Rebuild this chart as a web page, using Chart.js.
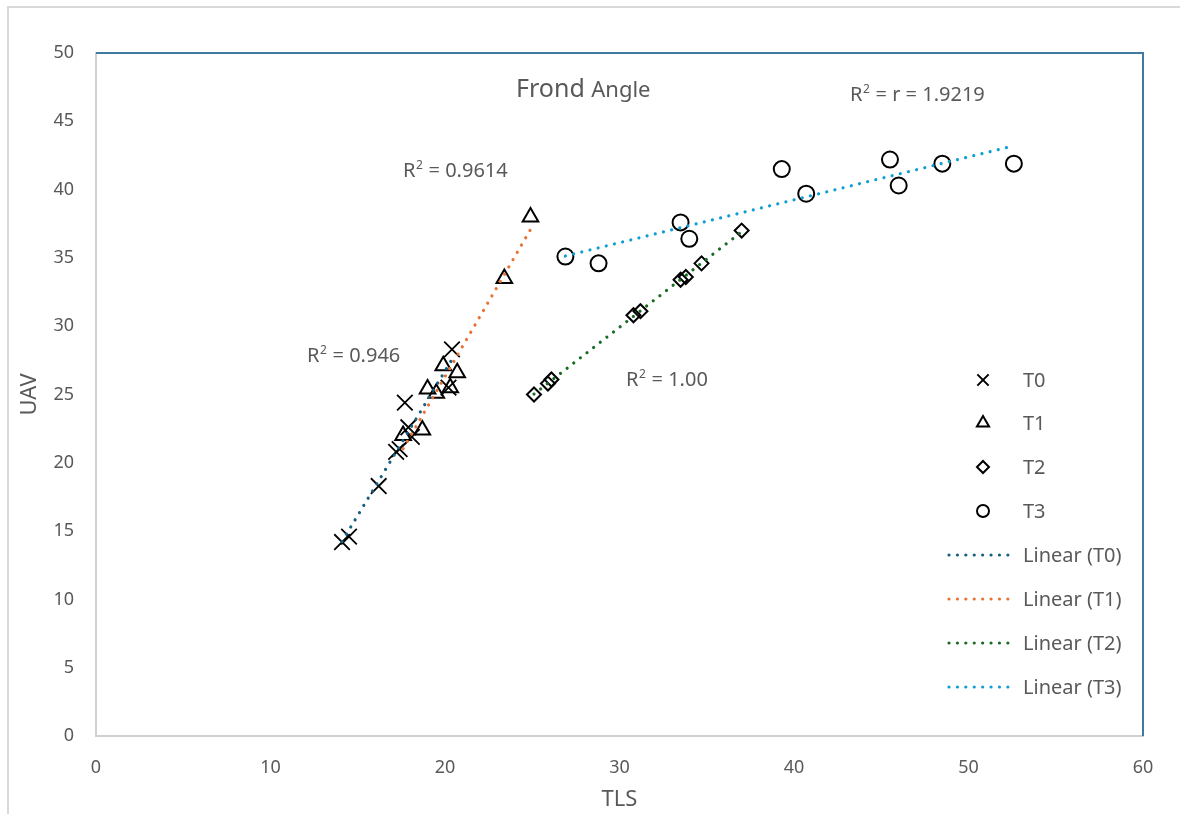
<!DOCTYPE html>
<html>
<head>
<meta charset="utf-8">
<script src="https://cdn.jsdelivr.net/npm/chart.js@4.4.1/dist/chart.umd.min.js"></script>
<style>
  html, body { margin: 0; padding: 0; background: #fff; }
  #wrap { position: relative; width: 1180px; height: 814px; }
</style>
</head>
<body>
<div id="wrap"><canvas id="scatterChart"></canvas></div>
<script>
// values
const tlsT0 = [14.1, 14.5, 16.2, 17.2, 17.4, 17.7, 17.9, 18.1, 20.2, 20.4];
const uavT0 = [14.2, 14.6, 18.3, 20.8, 21.0, 24.4, 22.6, 21.9, 25.5, 28.3];

const tlsT1 = [17.6, 18.7, 19.0, 19.5, 20.3, 19.9, 20.7, 23.4, 24.9];
const uavT1 = [22.0, 22.4, 25.4, 25.1, 25.5, 27.1, 26.6, 33.5, 38.0];

const tlsT2 = [25.1, 25.9, 26.1, 30.8, 31.2, 33.5, 33.8, 34.7, 37.0];
const uavT2 = [25.0, 25.8, 26.1, 30.8, 31.1, 33.4, 33.6, 34.6, 37.0];

const tlsT3 = [26.9, 28.8, 33.5, 34.0, 39.3, 40.7, 45.5, 46.0, 48.5, 52.6];
const uavT3 = [35.1, 34.6, 37.6, 36.4, 41.5, 39.7, 42.2, 40.3, 41.9, 41.9];

const seriesNames = ['T0', 'T1', 'T2', 'T3'];
const trendColors = ['#156082', '#E97132', '#196B24', '#0F9ED5'];
const r2Labels = ['0.946', '0.9614', '1.00', 'r = 1.9219'];

const xTicks = [0, 10, 20, 30, 40, 50, 60];
const yTicks = [0, 5, 10, 15, 20, 25, 30, 35, 40, 45, 50];

const grey = '#595959';
const fontFam = '"Noto Sans", "Liberation Sans", sans-serif';

function pts(xs, ys) {
  return xs.map((x, i) => ({ x: x, y: ys[i] }));
}

// least squares line drawn from min x to max x, like Excel trendlines
function trend(xs, ys) {
  const n = xs.length;
  const mx = xs.reduce((a, b) => a + b, 0) / n;
  const my = ys.reduce((a, b) => a + b, 0) / n;
  let sxy = 0, sxx = 0;
  for (let i = 0; i < n; i++) {
    sxy += (xs[i] - mx) * (ys[i] - my);
    sxx += (xs[i] - mx) * (xs[i] - mx);
  }
  const b = sxy / sxx, a = my - b * mx;
  const lo = Math.min(...xs), hi = Math.max(...xs);
  return [{ x: lo, y: a + b * lo }, { x: hi, y: a + b * hi }];
}

const groups = [[tlsT0, uavT0], [tlsT1, uavT1], [tlsT2, uavT2], [tlsT3, uavT3]];
const styles = ['crossRot', 'triangle', 'rectRot', 'circle'];
const radii = [11, 9, 7, 8];
const widths = [1.8, 2, 2, 2];

const datasets = [];
groups.forEach((g, i) => {
  datasets.push({
    label: seriesNames[i],
    data: pts(g[0], g[1]),
    pointStyle: styles[i],
    pointRadius: radii[i],
    pointBorderColor: '#000',
    pointBackgroundColor: 'rgba(0,0,0,0)',
    pointBorderWidth: widths[i],
    showLine: false,
    order: 2
  });
});
groups.forEach((g, i) => {
  datasets.push({
    label: 'Linear (' + seriesNames[i] + ')',
    data: trend(g[0], g[1]),
    showLine: true,
    borderColor: trendColors[i],
    borderWidth: 3.2,
    borderDash: [0.01, 8.4],
    borderCapStyle: 'round',
    pointRadius: 0,
    fill: false,
    order: 1
  });
});

function sup(ctx, x, y, rest, size) {
  ctx.font = size + 'px ' + fontFam;
  ctx.fillText('R', x, y);
  let w = ctx.measureText('R').width;
  ctx.font = Math.round(size * 0.6) + 'px ' + fontFam;
  ctx.fillText('2', x + w + 0.5, y - size * 0.42);
  w += ctx.measureText('2').width + 1;
  ctx.font = size + 'px ' + fontFam;
  ctx.fillText(' = ' + rest, x + w, y);
}

const decorations = {
  id: 'decorations',
  afterDraw(chart) {
    const ctx = chart.ctx;
    const a = chart.chartArea;
    ctx.save();
    // outer frame
    ctx.strokeStyle = '#d9d9d9';
    ctx.lineWidth = 2;
    ctx.beginPath();
    ctx.moveTo(8, 814); ctx.lineTo(8, 7); ctx.lineTo(1180, 7);
    ctx.stroke();
    // top and right plot border
    ctx.strokeStyle = '#3f7aa0';
    ctx.lineWidth = 2;
    ctx.beginPath();
    ctx.moveTo(a.left, a.top); ctx.lineTo(a.right, a.top); ctx.lineTo(a.right, a.bottom);
    ctx.stroke();

    // title
    ctx.fillStyle = grey;
    ctx.textBaseline = 'alphabetic';
    ctx.textAlign = 'left';
    ctx.font = '25px ' + fontFam;
    ctx.fillText('Frond', 516, 97);
    const fw = ctx.measureText('Frond ').width;
    ctx.font = '22px ' + fontFam;
    ctx.fillText('Angle', 516 + fw, 97);

    // R² labels
    sup(ctx, 307, 362, r2Labels[0], 20);
    sup(ctx, 403, 177, r2Labels[1], 20);
    sup(ctx, 626, 386, r2Labels[2], 20);
    sup(ctx, 850, 101, r2Labels[3], 20);

    // legend
    const rowY = [380, 423, 467, 511, 555, 599, 643, 687];
    const sizes = [8, 7, 6, 6];
    ctx.textBaseline = 'middle';
    ctx.font = '20px ' + fontFam;
    for (let i = 0; i < 4; i++) {
      const y = rowY[i];
      ctx.strokeStyle = '#000';
      ctx.fillStyle = 'rgba(0,0,0,0)';
      ctx.lineWidth = 2;
      Chart.helpers.drawPoint(ctx, { pointStyle: styles[i], radius: sizes[i], borderWidth: 2 }, 983, y);
      ctx.fillStyle = grey;
      ctx.font = '20px ' + fontFam;
      ctx.fillText(seriesNames[i], 1023, y + 1);
    }
    for (let i = 0; i < 4; i++) {
      const y = rowY[4 + i];
      ctx.strokeStyle = trendColors[i];
      ctx.lineWidth = 3.2;
      ctx.lineCap = 'round';
      ctx.setLineDash([0.01, 8.4]);
      ctx.beginPath();
      ctx.moveTo(949, y); ctx.lineTo(1016, y);
      ctx.stroke();
      ctx.setLineDash([]);
      ctx.fillStyle = grey;
      ctx.fillText('Linear (' + seriesNames[i] + ')', 1023, y + 1);
    }
    ctx.restore();
  }
};

new Chart(document.getElementById('scatterChart'), {
  type: 'scatter',
  data: { datasets: datasets },
  plugins: [decorations],
  options: {
    responsive: true,
    maintainAspectRatio: false,
    animation: false,
    layout: { padding: { left: 0, top: 53, right: 37, bottom: 0 } },
    plugins: { legend: { display: false }, tooltip: { enabled: false } },
    scales: {
      x: {
        type: 'linear',
        min: 0, max: 60,
        afterBuildTicks: s => { s.ticks = xTicks.map(v => ({ value: v })); },
        afterFit: s => { s.height = 78; },
        grid: { display: false, drawTicks: false },
        border: { display: true, color: '#d0d0d0', width: 2 },
        ticks: { color: grey, font: { size: 18, family: fontFam }, padding: 21 },
        title: { display: true, text: 'TLS', color: grey, font: { size: 22, family: fontFam }, padding: { top: 0, bottom: 1 } }
      },
      y: {
        type: 'linear',
        min: 0, max: 50,
        afterBuildTicks: s => { s.ticks = yTicks.map(v => ({ value: v })); },
        afterFit: s => { s.width = 96; },
        grid: { display: false, drawTicks: false },
        border: { display: true, color: '#d0d0d0', width: 2 },
        ticks: { color: grey, font: { size: 18, family: fontFam }, padding: 22 },
        title: { display: true, text: 'UAV', color: grey, font: { size: 22, family: fontFam }, padding: { top: 17, bottom: 0 } }
      }
    }
  }
});
</script>
</body>
</html>
